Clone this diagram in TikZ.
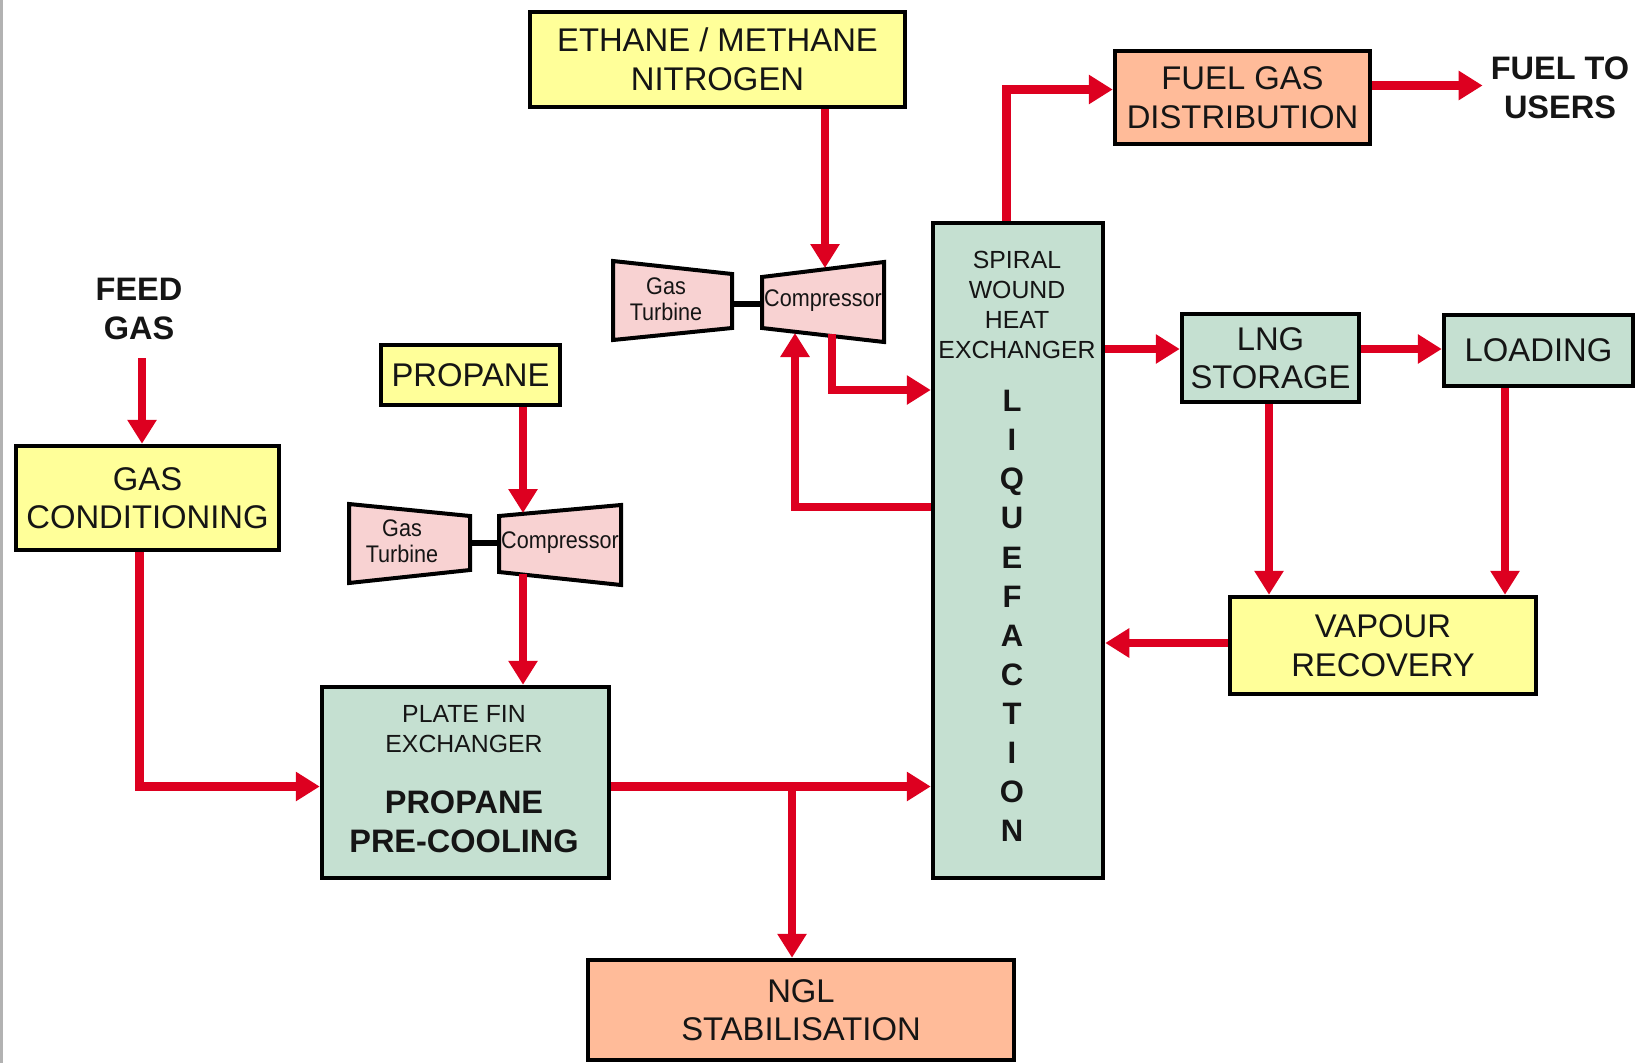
\documentclass[tikz,border=0pt]{standalone}
\usepackage{fontspec}
\setmainfont{Liberation Sans}
\newfontfamily\condfont[FakeStretch=0.9]{Liberation Sans}
\usetikzlibrary{arrows.meta}
\definecolor{boxyellow}{HTML}{FFFF99}
\definecolor{boxgreen}{HTML}{C5E0D1}
\definecolor{boxsalmon}{HTML}{FFBB99}
\definecolor{boxpink}{HTML}{F8D2D2}
\definecolor{flowred}{HTML}{DD0020}
\definecolor{txt}{HTML}{151515}
\begin{document}
\begin{tikzpicture}[x=1pt,y=-1pt,
  box/.style={draw=black,line width=4.5pt,inner sep=0pt,text=txt,align=center},
  ybox/.style={box,fill=boxyellow},
  gbox/.style={box,fill=boxgreen},
  sbox/.style={box,fill=boxsalmon},
  big/.style={font=\fontsize{32.8}{38.5}\selectfont},
  bigb/.style={font=\fontsize{32.5}{38.5}\selectfont\bfseries},
  small/.style={font=\fontsize{24.8}{30}\selectfont},
  mach/.style={draw=black,line width=4pt,fill=boxpink,line join=miter},
  machtxt/.style={inner sep=0pt,text=txt,align=center,font=\condfont\fontsize{24}{26}\selectfont},
  shaft/.style={draw=black,line width=6pt},
  flow/.style={draw=flowred,line width=8.5pt,-{Triangle[length=24pt,width=28pt]}},
  plain/.style={draw=flowred,line width=8.5pt}
]
\useasboundingbox (0,0) rectangle (1647,1063);
\fill[white] (0,0) rectangle (1647,1063);
\fill[gray!60] (0,0) rectangle (3,1063);

% boxes
\node[ybox,big,minimum width=375,minimum height=95] (ethane) at (717.5,59.5) {ETHANE / METHANE\\NITROGEN};
\node[sbox,big,minimum width=255,minimum height=93] (fuel) at (1242.5,97.5) {FUEL GAS\\DISTRIBUTION};
\node[inner sep=0pt,bigb,text=txt,align=center] (fuelto) at (1560,88) {FUEL TO\\USERS};
\node[inner sep=0pt,bigb,text=txt,align=center] (feed) at (139,309) {FEED\\GAS};
\coordinate (feedout) at (142,358);
\node[ybox,big,minimum width=263,minimum height=104] (gascond) at (147.5,498) {GAS\\CONDITIONING};
\node[ybox,big,minimum width=179,minimum height=60] (propane) at (470.5,375) {PROPANE};
\node[gbox,minimum width=170,minimum height=655] (liq) at (1018,550.5) {};
\node[small,inner sep=0pt,text=txt,align=center] (liqlabel) at (1017,305) {SPIRAL\\WOUND\\HEAT\\EXCHANGER};
\node[inner sep=0pt,text=txt,align=center,font=\fontsize{31}{39.1}\selectfont\bfseries] (liqword) at (1012,616) {L\\I\\Q\\U\\E\\F\\A\\C\\T\\I\\O\\N};
\node[gbox,big,minimum width=177,minimum height=88] (lng) at (1270.5,358) {LNG\\STORAGE};
\node[gbox,big,minimum width=189,minimum height=71] (loading) at (1538.5,350.5) {LOADING};
\node[ybox,big,minimum width=306,minimum height=97] (vapour) at (1383,645.5) {VAPOUR\\RECOVERY};
\node[gbox,minimum width=287,minimum height=191] (pf) at (465.5,782.5) {};
\node[small,inner sep=0pt,text=txt,align=center] (pflabel) at (464,729) {PLATE FIN\\EXCHANGER};
\node[bigb,inner sep=0pt,text=txt,align=center] (pfword) at (464,822) {PROPANE\\PRE-COOLING};
\node[sbox,big,minimum width=426,minimum height=100] (ngl) at (801,1010) {NGL\\STABILISATION};

% methane/ethane/nitrogen compressor train
\draw[mach] (613,261) -- (732,274) -- (732,328) -- (613,340) -- cycle;
\draw[mach] (762,277) -- (884,262) -- (884,342) -- (762,328) -- cycle;
\draw[shaft] (732,304) -- (762,304);
\node[machtxt] (gt1) at (666,299) {Gas\\Turbine};
\node[machtxt] (cp1) at (823,301) {Compressor};
\coordinate (c1in) at (825,268);
\coordinate (c1out) at (832,334);
\coordinate (c1ret) at (795,333);

% propane compressor train
\draw[mach] (349,504) -- (470,516) -- (470,570) -- (349,583) -- cycle;
\draw[mach] (499,516) -- (621,505) -- (621,585) -- (499,572) -- cycle;
\draw[shaft] (470,543) -- (499,543);
\node[machtxt] (gt2) at (402,541) {Gas\\Turbine};
\node[machtxt] (cp2) at (560,543) {Compressor};
\coordinate (c2in) at (523,513);
\coordinate (c2out) at (523,574);

% connectors
\draw[flow] (feedout) -- (feedout |- gascond.north);
\draw[flow] (ethane.south -| c1in) -- (c1in);
\draw[flow] (c1out) |- ([yshift=160.5pt]liq.west);
\draw[flow] ([yshift=43.5pt]liq.west) -| (c1ret);
\draw[flow] (propane.south -| c2in) -- (c2in);
\draw[flow] (c2out) -- (c2out |- pf.north);
\draw[flow] ([xshift=-8pt]gascond.south) |- ([yshift=-4pt]pf.west);
\draw[flow] ([yshift=-4pt]pf.east) -- ([yshift=-4pt]pf.east -| liq.west);
\draw[flow] ([xshift=-9pt,yshift=-4pt]ngl.north |- pf.east) -- ([xshift=-9pt]ngl.north);
\draw[flow] ([xshift=-11.5pt]liq.north) |- ([yshift=8pt]fuel.west);
\draw[flow,shorten >=8pt] ([yshift=12pt]fuel.east) -- ([yshift=12pt]fuel.east -| fuelto.west);
\draw[flow] ([yshift=9pt]lng.west -| liq.east) -- ([yshift=9pt]lng.west);
\draw[flow] ([yshift=9pt]lng.east) -- ([yshift=9pt]lng.east -| loading.west);
\draw[flow] ([xshift=-1.5pt]lng.south) -- ([xshift=-1.5pt]lng.south |- vapour.north);
\draw[flow] ([xshift=-33.5pt]loading.south) -- ([xshift=-33.5pt]loading.south |- vapour.north);
\draw[flow] ([yshift=2.5pt]vapour.west) -- ([yshift=2.5pt]vapour.west -| liq.east);
\end{tikzpicture}
\end{document}
